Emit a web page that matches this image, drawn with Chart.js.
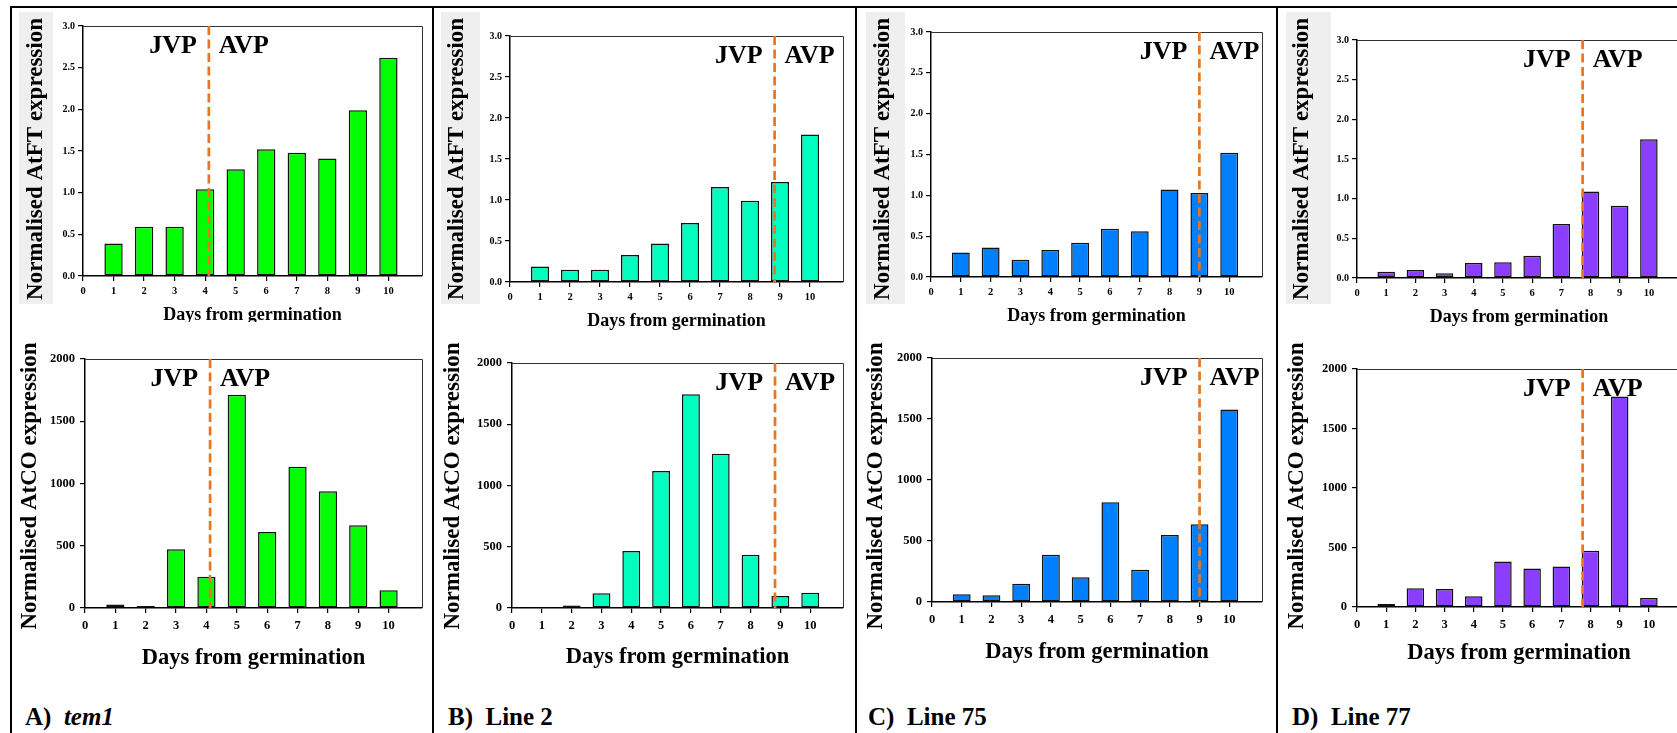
<!DOCTYPE html>
<html>
<head>
<meta charset="utf-8">
<script src="https://cdn.jsdelivr.net/npm/chart.js@4.4.0/dist/chart.umd.min.js"></script>
<style>
  html, body { margin: 0; padding: 0; background: #fff; }
  body { position: relative; width: 1677px; height: 733px; overflow: hidden;
         font-family: 'Liberation Serif', 'Times New Roman', serif; }
  .rule  { position: absolute; background: #000; }
  .shade { position: absolute; background: #efefef; }
  .clip  { position: absolute; overflow: hidden; }
  .clip canvas { position: absolute; left: 0; top: 0; }
  .tag   { position: absolute; font: bold 25px/25px 'Liberation Serif', serif;
           white-space: pre; color: #000; }
</style>
</head>
<body>
<script>
// ---- data -------------------------------------------------------------
const days = [1, 2, 3, 4, 5, 6, 7, 8, 9, 10];

const panelTags = ['A)', 'B)', 'C)', 'D)'];
const lineNames = ['tem1', 'Line 2', 'Line 75', 'Line 77'];

// normalised AtFT expression per day
const ftTem1   = [0.39, 0.59, 0.59, 1.04, 1.28, 1.52, 1.48, 1.41, 1.99, 2.62];
const ftLine2  = [0.19, 0.15, 0.15, 0.33, 0.47, 0.72, 1.16, 0.99, 1.22, 1.80];
const ftLine75 = [0.30, 0.36, 0.21, 0.33, 0.42, 0.59, 0.56, 1.07, 1.03, 1.52];
const ftLine77 = [0.08, 0.10, 0.06, 0.19, 0.20, 0.28, 0.68, 1.09, 0.91, 1.75];

// normalised AtCO expression per day
const coTem1   = [29, 16, 471, 252, 1713, 610, 1135, 937, 664, 142];
const coLine2  = [8, 20, 120, 465, 1118, 1744, 1260, 435, 98, 125];
const coLine75 = [63, 55, 150, 388, 202, 817, 265, 549, 637, 1577];
const coLine77 = [25, 157, 151, 90, 383, 324, 341, 473, 1768, 76];

// day of the juvenile -> adult vegetative phase change
const phaseChangeDay = [4.12, 8.82, 9.0, 7.73];

// tick ranges
const ftAxis = { max: 3.0, step: 0.5 };
const coAxis = { max: 2000, step: 500 };
const dayAxis = { max: 11.1, lastTick: 10 };

// ---- styling / layout ---------------------------------------------------
const barColors = ['#00FF00', '#00FFBF', '#0080FF', '#8B3EFF'];
const SERIF = "'Liberation Serif', 'Times New Roman', serif";

const layout = [
  { rule: 10,   shade: [19, 53],     tagX: 25,
    top: { L: 83,   R: 422,  T: 26, B: 276, yt: 36.5,   yc: 159, xt: 315.5, clip: 322 },
    bot: { L: 85,   R: 422,  T: 359, B: 608, yt: 30,    yc: 486, xt: 658 } },
  { rule: 432,  shade: [441, 480],   tagX: 448,
    top: { L: 510,  R: 843,  T: 36, B: 282, yt: 457.5,  yc: 159, xt: 321, clip: 334 },
    bot: { L: 512,  R: 843,  T: 363, B: 608, yt: 453.5, yc: 486, xt: 657 } },
  { rule: 855,  shade: [866, 905],   tagX: 868,
    top: { L: 931,  R: 1262, T: 32, B: 277, yt: 883,    yc: 159, xt: 316, clip: 326 },
    bot: { L: 932,  R: 1262, T: 358, B: 602, yt: 876,   yc: 486, xt: 652 } },
  { rule: 1276, shade: [1286, 1331], tagX: 1292,
    top: { L: 1357, R: 1681, T: 40, B: 278, yt: 1302.5, yc: 159, xt: 317, clip: 329 },
    bot: { L: 1357, R: 1681, T: 369, B: 607, yt: 1297.5, yc: 486, xt: 653 } },
];

function addDiv(cls, css, html) {
  const d = document.createElement('div');
  d.className = cls;
  Object.assign(d.style, css);
  if (html !== undefined) d.innerHTML = html;
  document.body.appendChild(d);
  return d;
}

// panel frame: one rule across the top, one rule left of each panel
addDiv('rule', { left: '10px', top: '6px', width: '1667px', height: '2px' });
layout.forEach(p => addDiv('rule', { left: p.rule + 'px', top: '6px', width: '2px', height: '727px' }));

// light box behind the upper y-axis titles
layout.forEach(p => addDiv('shade', {
  left: p.shade[0] + 'px', top: '12px',
  width: (p.shade[1] - p.shade[0]) + 'px', height: '292px'
}));

// panel captions
layout.forEach((p, i) => {
  const name = i === 0 ? '<i>' + lineNames[i] + '</i>' : lineNames[i];
  addDiv('tag', { left: p.tagX + 'px', top: '704px' }, panelTags[i] + '  ' + name);
});

// ---- plugins --------------------------------------------------------------
const plotFrame = {
  id: 'plotFrame',
  beforeDatasetsDraw(chart) {
    const { ctx, chartArea: a } = chart;
    ctx.save();
    ctx.strokeStyle = '#333';
    ctx.lineWidth = 1;
    ctx.beginPath();
    ctx.moveTo(a.left, a.top + 0.5);
    ctx.lineTo(a.right + 0.5, a.top + 0.5);
    ctx.lineTo(a.right + 0.5, a.bottom);
    ctx.stroke();
    ctx.restore();
  }
};

// vertical y-axis title, centred on a given point of the canvas
const sideTitle = {
  id: 'sideTitle',
  afterDraw(chart, args, opts) {
    const { ctx } = chart;
    ctx.save();
    ctx.translate(opts.x, opts.y);
    ctx.rotate(-Math.PI / 2);
    ctx.fillStyle = '#000';
    ctx.font = 'bold ' + opts.size + 'px ' + SERIF;
    ctx.textAlign = 'center';
    ctx.textBaseline = 'middle';
    ctx.fillText(opts.text, 0, 0);
    ctx.restore();
  }
};

const phaseMarker = {
  id: 'phaseMarker',
  afterDatasetsDraw(chart, args, opts) {
    const { ctx, chartArea: a, scales: { x } } = chart;
    const px = x.getPixelForValue(opts.day);
    ctx.save();
    ctx.strokeStyle = '#E9761E';
    ctx.lineWidth = 2.7;
    ctx.setLineDash([9, 4.5]);
    ctx.beginPath();
    ctx.moveTo(px, a.top);
    ctx.lineTo(px, a.bottom);
    ctx.stroke();
    ctx.setLineDash([]);
    ctx.fillStyle = '#000';
    ctx.font = 'bold 26px ' + SERIF;
    ctx.textBaseline = 'alphabetic';
    ctx.textAlign = 'right';
    ctx.fillText('JVP', px - 12, a.top + 27);
    ctx.textAlign = 'left';
    ctx.fillText('AVP', px + 10, a.top + 27);
    ctx.restore();
  }
};

// ---- charts -----------------------------------------------------------------
function makeChart(i, values, axis, yTitle, g, upper) {
  const ySize = 23;
  const xSize = upper ? 18 : 22.5;
  const yTick = upper ? 10 : 12.5;
  const xTick = upper ? 10.5 : 12.5;

  const left = layout[i].rule + 3;
  const top = upper ? 9 : 336;
  const right = g.R + 6;
  const bottom = Math.round(g.xt + xSize / 2 + 8);
  const W = right - left, H = bottom - top;
  const yW = g.L - left;
  const xH = g.xt - g.B + xSize / 2;

  const box = addDiv('clip', {
    left: left + 'px', top: top + 'px', width: W + 'px',
    height: (g.clip ? g.clip - top : H) + 'px'
  });
  const cv = document.createElement('canvas');
  cv.width = W; cv.height = H;
  cv.style.width = W + 'px'; cv.style.height = H + 'px';
  box.appendChild(cv);

  new Chart(cv, {
    type: 'bar',
    data: {
      datasets: [{
        data: days.map((d, k) => ({ x: d, y: values[k] })),
        backgroundColor: barColors[i],
        borderColor: '#111',
        borderWidth: 1.5,
        borderSkipped: false,
        barPercentage: 0.6,
        categoryPercentage: 1.0
      }]
    },
    options: {
      responsive: false,
      animation: false,
      devicePixelRatio: 1,
      layout: { padding: { left: 0, top: g.T - top, right: right - g.R, bottom: H - (g.B - top) - xH } },
      plugins: {
        legend: { display: false },
        tooltip: { enabled: false },
        phaseMarker: { day: phaseChangeDay[i] },
        sideTitle: { text: yTitle, size: ySize, x: g.yt - left, y: g.yc - top }
      },
      scales: {
        x: {
          type: 'linear',
          min: 0, max: dayAxis.max,
          offset: false,
          afterBuildTicks: s => { s.ticks = s.ticks.filter(t => t.value <= dayAxis.lastTick); },
          afterFit: s => { s.height = xH; },
          ticks: { stepSize: 1, padding: upper ? 4 : 5, color: '#000',
                   font: { family: SERIF, weight: 'bold', size: xTick } },
          grid: { drawOnChartArea: false, offset: false, tickLength: 5, color: '#000', lineWidth: 1.2 },
          border: { color: '#000', width: 1.5 },
          title: { display: true, text: 'Days from germination', color: '#000',
                   padding: { top: 0, bottom: 0 },
                   font: { family: SERIF, weight: 'bold', size: xSize, lineHeight: 1 } }
        },
        y: {
          min: 0, max: axis.max,
          afterFit: s => { s.width = yW; },
          ticks: { stepSize: axis.step, padding: upper ? 3 : 5, color: '#000',
                   callback: v => upper ? v.toFixed(1) : String(v),
                   font: { family: SERIF, weight: 'bold', size: yTick } },
          grid: { drawOnChartArea: false, tickLength: 5, color: '#000', lineWidth: 1.2 },
          border: { color: '#000', width: 1.5 },
          title: { display: false }
        }
      }
    },
    plugins: [plotFrame, phaseMarker, sideTitle]
  });
}

const ftSeries = [ftTem1, ftLine2, ftLine75, ftLine77];
const coSeries = [coTem1, coLine2, coLine75, coLine77];

layout.forEach((p, i) => {
  makeChart(i, ftSeries[i], ftAxis, 'Normalised AtFT expression', p.top, true);
  makeChart(i, coSeries[i], coAxis, 'Normalised AtCO expression', p.bot, false);
});
</script>
</body>
</html>
